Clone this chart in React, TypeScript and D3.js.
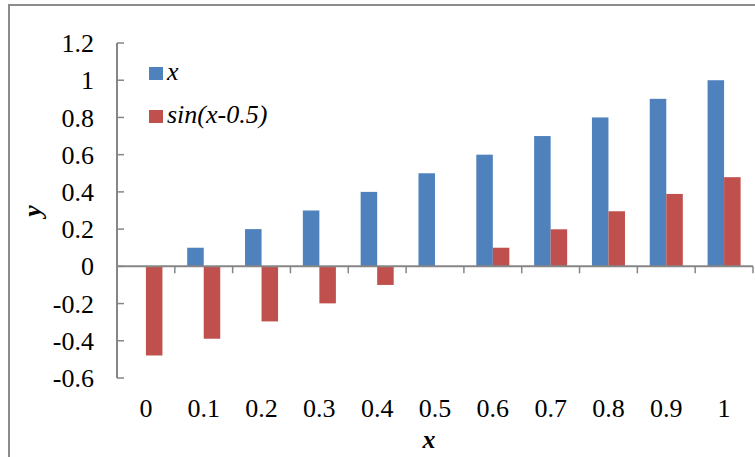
import React from "react";
import * as d3 from "d3";

const categories: string[] = ["0", "0.1", "0.2", "0.3", "0.4", "0.5", "0.6", "0.7", "0.8", "0.9", "1"];
const seriesX: number[] = [0, 0.1, 0.2, 0.3, 0.4, 0.5, 0.6, 0.7, 0.8, 0.9, 1];
const seriesSin: number[] = [-0.479, -0.389, -0.296, -0.199, -0.1, 0, 0.1, 0.199, 0.296, 0.389, 0.479];
const yTicks: number[] = [-0.6, -0.4, -0.2, 0, 0.2, 0.4, 0.6, 0.8, 1, 1.2];
const seriesNames: string[] = ["x", "sin(x-0.5)"];
const colors: string[] = ["#4F81BD", "#C0504D"];

const W = 755;
const H = 457;
const FONT = "Liberation Serif, Times New Roman, serif";
const FS = 26;
const AXIS = "#868686";

export default function App() {
  const left = 117, right = 753, top = 43, bottom = 378;
  const x = d3.scaleBand<string>().domain(categories).range([left, right]).paddingInner(0.4286).paddingOuter(0.2143);
  const y = d3.scaleLinear().domain([-0.6, 1.2]).range([bottom, top]);
  const bw = x.bandwidth() / 2;
  const step = x.step();
  const series = [seriesX, seriesSin];
  const ly = [67, 110];

  return (
    <svg width={W} height={H} style={{ position: "absolute", left: 0, top: 0, display: "block", background: "white" }}>
      <rect x={9} y={5} width={W} height={H} fill="white" stroke="#8c8c8c" strokeWidth={2} />

      {series.map((vals, si) => (
        <g key={si}>
          {vals.map((d, i) => (
            <rect key={i}
              x={(x(categories[i]) as number) + si * bw}
              y={y(Math.max(0, d))}
              width={bw}
              height={Math.abs(y(d) - y(0))}
              fill={colors[si]} />
          ))}
        </g>
      ))}

      <line x1={left} x2={left} y1={top} y2={bottom} stroke={AXIS} strokeWidth={2} />
      {yTicks.map((t) => (
        <g key={t}>
          <line x1={left} x2={left + 7} y1={y(t)} y2={y(t)} stroke={AXIS} strokeWidth={1.5} />
          <text x={94} y={y(t)} dy="0.35em" textAnchor="end" style={{ fontFamily: FONT, fontSize: `${FS}px` }}>
            {String(+t.toFixed(1))}
          </text>
        </g>
      ))}

      <line x1={left} x2={right} y1={y(0)} y2={y(0)} stroke={AXIS} strokeWidth={2} />
      {d3.range(categories.length + 1).map((i) => (
        <line key={i} x1={left + i * step} x2={left + i * step} y1={y(0)} y2={y(0) + 7} stroke={AXIS} strokeWidth={1.5} />
      ))}
      {categories.map((c) => (
        <text key={c} x={(x(c) as number) + x.bandwidth() / 2} y={417} textAnchor="middle" style={{ fontFamily: FONT, fontSize: `${FS}px` }}>
          {c}
        </text>
      ))}

      <text x={429} y={448} textAnchor="middle"
        style={{ fontFamily: FONT, fontSize: `${FS}px`, fontWeight: "bold", fontStyle: "italic" }}>x</text>
      <text transform="translate(41,211) rotate(-90)" textAnchor="middle"
        style={{ fontFamily: FONT, fontSize: `${FS}px`, fontWeight: "bold", fontStyle: "italic" }}>y</text>

      {seriesNames.map((n, i) => (
        <g key={n}>
          <rect x={149} y={ly[i]} width={14} height={13} fill={colors[i]} />
          <text x={167} y={ly[i] + 13} style={{ fontFamily: FONT, fontSize: `${FS}px`, fontStyle: "italic" }}>{n}</text>
        </g>
      ))}
    </svg>
  );
}
